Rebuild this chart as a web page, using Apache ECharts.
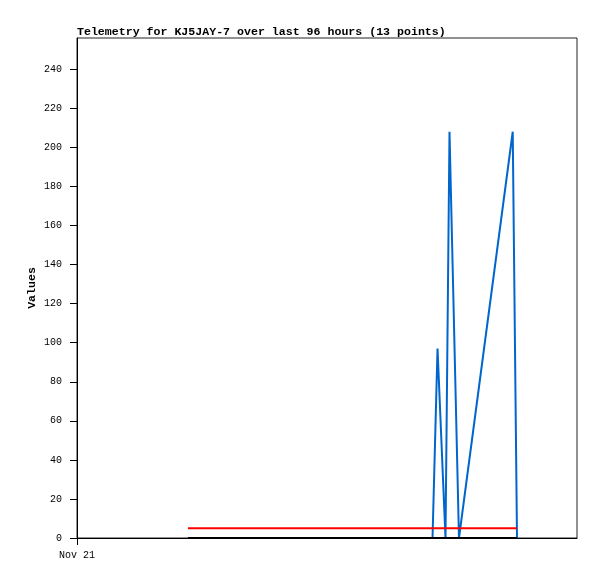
<!DOCTYPE html>
<html>
<head>
<meta charset="utf-8">
<script src="https://cdn.jsdelivr.net/npm/echarts@6/dist/echarts.min.js"></script>
<style>html,body{margin:0;padding:0;background:#fff}#c{width:597px;height:579px}</style>
</head>
<body>
<div id="c"></div>
<script>
// hours since Nov 21 00:00
var titleText = 'Telemetry for KJ5JAY-7 over last 96 hours (13 points)';
var xTickLabels = ['Nov 21'];
var yTicks = [0, 20, 40, 60, 80, 100, 120, 140, 160, 180, 200, 220, 240];
var baseTimes = [21.3, 84.5];
var redValues = [5, 5];
var blackValues = [0, 0];
var blueTimes = [68.26, 69.22, 70.75, 71.52, 73.34, 83.66, 84.48];
var blueValues = [0, 97, 0, 208, 0, 208, 0];

function zip(t, v) { return t.map(function (x, i) { return [x, v[i]]; }); }

var font = 'Liberation Mono, DejaVu Sans Mono, monospace';
var chart = echarts.init(document.getElementById('c'));
chart.setOption({
  animation: false,
  backgroundColor: '#fff',
  title: {
    text: titleText,
    left: 77, top: 26, padding: 0,
    textStyle: { fontFamily: font, fontSize: 11.6, fontWeight: 'bold', color: '#000' }
  },
  grid: { left: 77, top: 38, right: 20, bottom: 41, show: true, borderColor: '#222', borderWidth: 1 },
  xAxis: {
    type: 'value', min: 0, max: 96,
    axisLine: { show: true, onZero: false, lineStyle: { color: '#000', width: 1 } },
    axisTick: { show: true, length: 7, customValues: [0], lineStyle: { color: '#000' } },
    axisLabel: {
      customValues: [0], margin: 12,
      formatter: function (v, i) { return xTickLabels[0]; },
      fontFamily: font, fontSize: 10, color: '#000'
    },
    splitLine: { show: false }
  },
  yAxis: {
    type: 'value', min: 0, max: 256,
    name: 'Values', nameLocation: 'middle', nameGap: 39, nameRotate: 90, nameMoveOverlap: false,
    nameTextStyle: { fontFamily: font, fontSize: 11.6, fontWeight: 'bold', color: '#000' },
    axisLine: { show: true, lineStyle: { color: '#000', width: 1 } },
    axisTick: { show: true, length: 7, customValues: yTicks, lineStyle: { color: '#000' } },
    axisLabel: { customValues: yTicks, margin: 15, fontFamily: font, fontSize: 10, color: '#000' },
    splitLine: { show: false }
  },
  series: [
    { type: 'line', data: zip(blueTimes, blueValues), showSymbol: false, lineStyle: { color: '#0066cc', width: 2 }, itemStyle: { color: '#0066cc' }, z: 2 },
    { type: 'line', data: zip(baseTimes, redValues), showSymbol: false, lineStyle: { color: '#ff0000', width: 2 }, itemStyle: { color: '#ff0000' }, z: 3 },
    { type: 'line', data: zip(baseTimes, blackValues), showSymbol: false, clip: false, lineStyle: { color: '#000', width: 2 }, itemStyle: { color: '#000' }, z: 4 }
  ]
});
</script>
</body>
</html>
